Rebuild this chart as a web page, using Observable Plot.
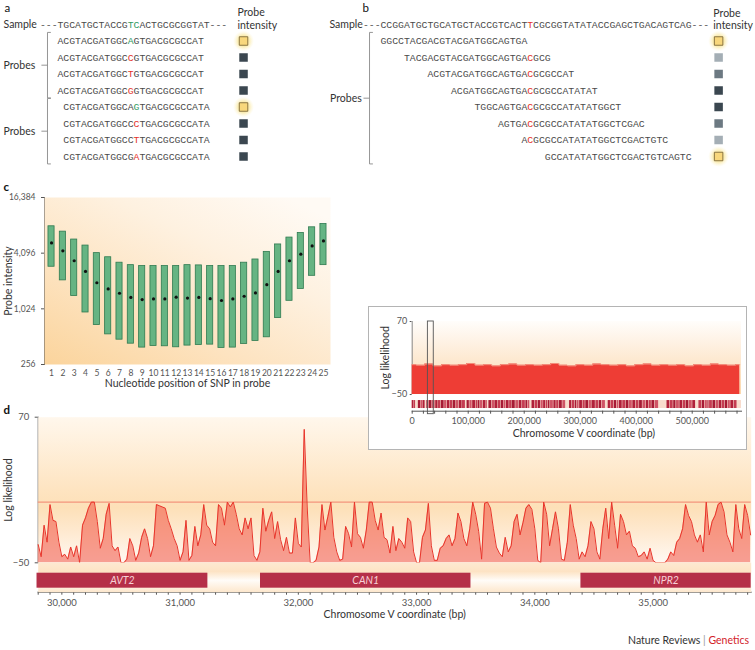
<!DOCTYPE html>
<html><head><meta charset="utf-8">
<script src="https://cdn.jsdelivr.net/npm/d3@7"></script>
<script src="https://cdn.jsdelivr.net/npm/@observablehq/plot@0.6"></script>
<style>
body{margin:0;background:#fff;}
#root{position:relative;width:755px;height:650px;overflow:hidden;font-family:Lato,"Open Sans",sans-serif;}
#inset{position:absolute;left:368px;top:306px;width:377px;height:142px;border:1px solid #b4b4b4;background:#fff;z-index:5;}
#footer{position:absolute;right:6px;top:634px;font-size:10.5px;color:#333;font-family:Lato,"Open Sans",sans-serif;}
svg.abs{position:absolute;overflow:visible;}
</style></head><body>
<svg width="0" height="0" style="position:absolute"><defs>
 <linearGradient id="gc" x1="0" y1="1" x2="0.85" y2="0">
  <stop offset="0" stop-color="#fbd49c"/><stop offset="0.35" stop-color="#fde3c0"/>
  <stop offset="0.7" stop-color="#fef1e0"/><stop offset="1" stop-color="#fffaf4"/>
 </linearGradient>
 <linearGradient id="gd" x1="0" y1="0" x2="0" y2="1">
  <stop offset="0" stop-color="#fff7ec"/><stop offset="0.5" stop-color="#fee4c1"/>
  <stop offset="0.62" stop-color="#fde0b8"/><stop offset="0.8" stop-color="#feead2"/>
  <stop offset="1" stop-color="#fff9f3"/>
 </linearGradient>
 <linearGradient id="gi" x1="0" y1="0" x2="0" y2="1">
  <stop offset="0" stop-color="#fffdfb"/><stop offset="0.55" stop-color="#fde8cf"/>
  <stop offset="1" stop-color="#fcd9ad"/>
 </linearGradient>
 <linearGradient id="gg" x1="0" y1="0" x2="0" y2="1">
  <stop offset="0" stop-color="#fde9d1"/><stop offset="0.3" stop-color="#fde3c4"/>
  <stop offset="0.6" stop-color="#fffcf8"/><stop offset="1" stop-color="#fde7cc"/>
 </linearGradient>
 <radialGradient id="glow">
  <stop offset="0" stop-color="#f7dc6e" stop-opacity="0.95"/>
  <stop offset="0.55" stop-color="#f9e697" stop-opacity="0.7"/>
  <stop offset="1" stop-color="#fdf4cc" stop-opacity="0"/>
 </radialGradient>
</defs></svg>
<div id="root">
 <div id="inset"></div>
 <div id="footer">Nature Reviews <span style="color:#999">|</span> <span style="color:#d3222a">Genetics</span></div>
</div>
<script>
// ---------------- DATA ----------------
// Panel a
const sampleA = "TGCATGCTACCGTCACTGCGCGGTAT";
const sampleAMarked = [12, 13];
const probesA = [
  "ACGTACGATGGCAGTGACGCGCCAT",
  "ACGTACGATGGCCGTGACGCGCCAT",
  "ACGTACGATGGCTGTGACGCGCCAT",
  "ACGTACGATGGCGGTGACGCGCCAT",
  "CGTACGATGGCAGTGACGCGCCATA",
  "CGTACGATGGCCCTGACGCGCCATA",
  "CGTACGATGGCCTTGACGCGCCATA",
  "CGTACGATGGCGATGACGCGCCATA"
];
const probesAOffset = [0, 0, 0, 0, 1, 1, 1, 1];
const probesAMarked = [12, 12, 12, 12, 12, 12, 12, 12];
const probesAMatch = [true, false, false, false, true, false, false, false];
const intensityA = [3, 0, 0, 0, 3, 0, 0, 0];
const groupsA = [[1, 4], [5, 8]];

// Panel b
const sampleB = "CCGGATGCTGCATGCTACCGTCACTTCGCGGTATATACCGAGCTGACAGTCAG";
const snpB = 25;
const probesB = [
  "GGCCTACGACGTACGATGGCAGTGA",
  "TACGACGTACGATGGCAGTGACGCG",
  "ACGTACGATGGCAGTGACGCGCCAT",
  "ACGATGGCAGTGACGCGCCATATAT",
  "TGGCAGTGACGCGCCATATATGGCT",
  "AGTGACGCGCCATATATGGCTCGAC",
  "ACGCGCCATATATGGCTCGACTGTC",
  "GCCATATATGGCTCGACTGTCAGTC"
];
const probesBOffset = [0, 4, 8, 12, 16, 20, 24, 28];
const intensityB = [3, 2, 1, 0, 0, 1, 2, 3];
const groupsB = [[1, 8]];

// Panel c
const positions = [1,2,3,4,5,6,7,8,9,10,11,12,13,14,15,16,17,18,19,20,21,22,23,24,25];
const cHigh = [8000,7000,5750,4950,4100,3700,3230,3040,2970,2970,2970,2970,3040,3020,2970,2970,2970,3230,3500,4230,5090,6040,6780,7800,8470];
const cMedian = [5290,4340,3390,2600,1960,1680,1510,1360,1290,1310,1310,1370,1340,1360,1320,1260,1310,1400,1520,1870,2600,3390,3990,4910,5560];
const cLow = [2920,2080,1410,935,683,542,475,430,390,406,403,393,410,416,420,387,390,427,460,504,813,1250,1680,2330,3040];
const cTicks = [256, 1024, 4096, 16384];

// Panel d (log likelihood every 25 bp from 29,800)
const traceStart = 29800, traceStep = 25;
const traceValues = [
 -35,-45,-19,-33,-2,-15,-16,-33,-45,-43,-47,-37,-45,-36,-50,-19,-13,-5,0,0,
 -16,-38,-30,-10,-1,-36,-40,-37,-50,-50,-47,-30,-36,-48,-42,-29,-22,-30,-45,-36,
 -2,-3,-4,-5,-15,-22,-30,-36,-48,-41,-15,-48,-44,-20,-36,-27,-2,-19,-22,-33,
 -36,-2,-5,-19,0,-4,0,-10,-22,-27,-13,-22,-13,-44,-48,-41,-5,-24,-15,-8,
 -30,-16,-31,-40,-29,-42,-42,-13,-34,-37,60,-4,-50,-50,-48,-37,-2,-23,-12,0,
 -29,-41,-48,-47,-20,-26,-37,0,-26,-29,-38,-23,0,0,-15,-23,-9,-29,-31,-42,
 -20,-40,-30,-33,-38,-13,-16,-41,-50,-50,-29,-23,-1,-36,-48,-48,-38,-36,-30,-27,
 -36,-30,-9,-16,-30,-36,-22,0,-10,-24,-47,-1,0,-5,-22,-37,-42,-45,-29,-41,
 -36,-16,-10,-27,-17,-5,-2,-6,-22,-48,-50,0,-10,-36,-22,-8,-22,-47,-48,-33,
 -2,-19,-30,-47,-41,-45,-36,-16,-22,-41,-47,-22,-5,-30,0,-19,-38,-10,-16,-27,
 -24,-36,-38,-45,-44,-41,-47,-38,-48,-50,-50,-50,-50,-47,-41,-44,-33,-30,-22,-2,
 -11,-16,-27,-33,-27,-41,0,-27,-16,-11,-2,0,-8,-27,-33,-41,-2,-22,-30,-2,
 -11,-27
];
const threshold = 0;
const geneNames = ["AVT2", "CAN1", "NPR2"];
const geneStart = [29790, 31680, 34390];
const geneEnd = [31235, 33460, 35830];
const dDomain = [29800, 35830];

// Inset (whole chromosome V)
const insetStep = 15000;
const insetValues = [-1,-2,0,-3,-1,-2,-1,1,-2,-1,-3,-1,0,-2,-1,-2,-1,1,-2,-3,-1,-2,0,-1,-2,-1,-3,-1,0,-2,-1,-2,-1,-3,-1,-2,0,-1,-2,-1];
const insetGenesKb = [
 [0,3],[3.5,6],[11,15],[15.6,19],[19.5,23],[26,30],[30.8,35],[35.5,41],[42,46],[46.6,51],[52,57],[57.8,62],
 [63,67],[67.7,72],[73,78],[78.8,83],[84,89],[89.6,95],[98,102],[103,107],[108,113],[114,117],[117.8,121],
 [122,126],[127,131],[131.6,134],[137,142],[143,147],[147.7,153],[154,158],[159,163],[163.8,167],
 [168,173],[174,178],[178.6,184],[185,190],[191,196],[197,202],[203,206],[206.8,210],
 [214,219],[220,224],[225,229],[230,234],[234.7,238],[239,242],[243,246],
 [247,252],[253,257],[258,262],[263,268],[269,274],[281,285],[286,290],[291,294],[295,298],
 [299,304],[305,309],[310,315],[316,320],[321,327],[328,333],[334,338],[339,345],
 [350,354],[355,360],[361,365],[366,369],[370,375],[376,381],[382,387],
 [388,393],[394,399],[400,405],[406,411],[412,417],[418,422],[423,427],[428,433],[434,440],
 [455,460],[461,466],[467,471],[472,477],[478,483],[484,488],[489,494],[495,500],[501,506],
 [512,517],[518,522],[523,527],[528,530],[531,536],[537,542],[543,547],
 [548,553],[554,558],[559,563],[564,568],[569,574],[575,580]
];
const insetDomain = [0, 588000];
const zoomWindow = [28000, 38500];

// ---------------- STYLE ----------------
const labelFont = "Lato, 'Open Sans', sans-serif";
const seqFont = "'Liberation Mono', 'DejaVu Sans Mono', monospace";
const seqColor = "#4a4a4a", red = "#e5322a", green = "#2f9a5f";
const sqFill = ["#3b4750", "#6c7982", "#a4aeb5", "#f8d77c"];
const root = document.getElementById("root");
function place(svg, left, top, parent = root) {
  svg.classList.add("abs");
  svg.style.left = left + "px"; svg.style.top = top + "px";
  parent.appendChild(svg);
}
function pushSeq(arr, str, row, offset, markIdx, markColor) {
  [...str].forEach((c, i) => arr.push({c, row, col: offset + i, fill: markIdx.includes(i) ? markColor : seqColor}));
}
function bracket(groups, xb, xEnd) {
  return groups.flatMap(([a, b], g) => [
    {g, x: xEnd, y: a - 0.52}, {g, x: xb, y: a - 0.52}, {g, x: xb, y: b + 0.45}, {g, x: xEnd, y: b + 0.45}]);
}
function seqPanel({chars, intens, groups, x0, cw, labels, sqCol, xb, xEnd, xTick}) {
  const sq = intens.map((v, k) => ({row: k + 1, v}));
  const mids = groups.map(([a, b]) => ({y: (a - 0.52 + b + 0.45) / 2}));
  return Plot.plot({
    width: 755, height: 172, margin: 0,
    style: {background: "transparent"},
    x: {type: "linear", domain: [0, 1], range: [x0, x0 + cw], axis: null},
    y: {type: "linear", domain: [0, 1], range: [24, 40.5], axis: null},
    color: {type: "identity"},
    marks: [
      Plot.line(bracket(groups, xb, xEnd), {x: "x", y: "y", z: "g", stroke: "#8a8a8a", strokeWidth: 0.9}),
      Plot.link(mids, {x1: xTick, x2: xb, y1: "y", y2: "y", stroke: "#8a8a8a", strokeWidth: 0.9}),
      Plot.text(chars, {x: d => d.col + 0.5, y: "row", text: "c", fill: "fill", fontFamily: seqFont, fontSize: 9.8}),
      Plot.dot(sq.filter(d => d.v === 3), {x: sqCol, y: "row", r: 10.5, fill: "url(#glow)"}),
      Plot.dot(sq, {x: sqCol, y: "row", symbol: "square", r: 4.8, fill: d => sqFill[d.v],
        stroke: d => d.v === 3 ? "#6e5c30" : "none", strokeWidth: 0.8}),
      Plot.text(labels, {x: "x", y: "y", text: "t", textAnchor: "start", fontFamily: labelFont,
        fontSize: d => d.size || 10.5, fontWeight: d => d.bold ? 700 : 400, fill: d => d.bold ? "#111" : "#333"})
    ]
  });
}

// ---------------- PANEL A ----------------
const charsA = [];
pushSeq(charsA, "---" + sampleA + "---", 0, -3, sampleAMarked.map(i => i + 3), green);
probesA.forEach((p, k) => pushSeq(charsA, p, k + 1, probesAOffset[k], [probesAMarked[k]], probesAMatch[k] ? green : red));
place(seqPanel({
  chars: charsA, intens: intensityA, groups: groupsA, x0: 57, cw: 5.85, sqCol: 31.8, xb: -1.71, xEnd: -1.2, xTick: -2.75,
  labels: [
    {t: "a", x: -9.06, y: -0.97, bold: true, size: 11.5},
    {t: "Sample", x: -9.23, y: 0},
    ...groupsA.map(([a, b]) => ({t: "Probes", x: -9.23, y: (a - 0.52 + b + 0.45) / 2})),
    {t: "Probe", x: 30.77, y: -0.73},
    {t: "intensity", x: 30.77, y: 0.06}
  ]
}), 0, 0);

// ---------------- PANEL B ----------------
const charsB = [];
pushSeq(charsB, "---" + sampleB + "---", 0, -3, [snpB + 3], red);
probesB.forEach((p, k) => pushSeq(charsB, p, k + 1, probesBOffset[k], [snpB - probesBOffset[k]], red));
place(seqPanel({
  chars: charsB, intens: intensityB, groups: groupsB, x0: 380, cw: 5.87, sqCol: 57.6, xb: -1.87, xEnd: -1.36, xTick: -2.9,
  labels: [
    {t: "b", x: -3.07, y: -0.97, bold: true, size: 11.5},
    {t: "Sample", x: -8.7, y: 0},
    ...groupsB.map(([a, b]) => ({t: "Probes", x: -8.6, y: (a - 0.52 + b + 0.45) / 2})),
    {t: "Probe", x: 56.7, y: -0.67},
    {t: "intensity", x: 56.7, y: 0.06}
  ]
}), 0, 0);

// ---------------- PANEL C ----------------
const cData = positions.map((p, i) => ({pos: p, high: cHigh[i], median: cMedian[i], low: cLow[i]}));
place(Plot.plot({
  width: 340, height: 220, marginLeft: 44, marginRight: 10, marginTop: 22, marginBottom: 31,
  style: {background: "transparent", fontFamily: labelFont, fontSize: "8.5px", color: "#555"},
  x: {type: "linear", domain: [0.38, 25.62], ticks: positions, tickFormat: d => String(d), tickSize: 0, tickPadding: 5, label: null},
  y: {type: "log", base: 2, domain: [256, 16384], ticks: cTicks, tickFormat: d3.format(","), tickSize: 3, line: true, label: null},
  marks: [
    Plot.frame({fill: "url(#gc)", stroke: "none"}),
    Plot.rect(cData, {x1: d => d.pos - 0.27, x2: d => d.pos + 0.27, y1: "low", y2: "high", fill: "#66b483", stroke: "#2f7a50", strokeWidth: 0.8}),
    Plot.dot(cData, {x: "pos", y: "median", r: 1.6, fill: "#111"}),
    Plot.text(["Nucleotide position of SNP in probe"], {text: d => d, frameAnchor: "bottom", textAnchor: "middle", dy: 22, fontSize: 10.5, fill: "#333"}),
    Plot.text(["Probe intensity"], {text: d => d, frameAnchor: "left", textAnchor: "middle", rotate: -90, dx: -36, fontSize: 10.5, fill: "#333"}),
    Plot.text(["c"], {text: d => d, frameAnchor: "top-left", textAnchor: "start", dx: -41, dy: -15, fontSize: 11.5, fontWeight: 700, fill: "#111"})
  ]
}), 0, 175);

// ---------------- PANEL D ----------------
const trace = traceValues.map((v, i) => ({bp: traceStart + i * traceStep, v}));
place(Plot.plot({
  width: 755, height: 170, marginLeft: 37.7, marginRight: 4.3, marginTop: 21.7, marginBottom: 2.7,
  style: {background: "transparent", fontFamily: labelFont, fontSize: "9.5px", color: "#555"},
  x: {domain: dDomain, axis: null},
  y: {domain: [-50, 70], ticks: [-50, 70], tickFormat: d => d < 0 ? "\u221250" : String(d), tickSize: 3, line: true, label: null},
  marks: [
    Plot.frame({fill: "url(#gd)", stroke: "none"}),
    Plot.ruleY([threshold], {stroke: "#f3957c", strokeWidth: 1.2}),
    Plot.areaY(trace, {x: "bp", y1: -50, y2: "v", fill: "#ef4433", fillOpacity: 0.5}),
    Plot.lineY(trace, {x: "bp", y: "v", stroke: "#e8352b", strokeWidth: 1}),
    Plot.text(["Log likelihood"], {text: d => d, frameAnchor: "left", textAnchor: "middle", rotate: -90, dx: -29.7, fontSize: 10.5, fill: "#333"}),
    Plot.text(["d"], {text: d => d, frameAnchor: "top-left", textAnchor: "start", dx: -34.7, dy: -11.7, fontSize: 11.5, fontWeight: 700, fill: "#111"})
  ]
}), 0, 395);

const genes = geneNames.map((n, i) => ({name: n, start: geneStart[i], end: geneEnd[i]}));
place(Plot.plot({
  width: 755, height: 65, marginLeft: 37.7, marginRight: 4.3, marginTop: 0, marginBottom: 35.3,
  style: {background: "transparent", fontFamily: labelFont, fontSize: "9.5px", color: "#555"},
  x: {domain: dDomain, ticks: d3.range(29800, 35900, 100), tickFormat: d => d % 1000 === 0 ? d3.format(",")(d) : "", tickSize: 3, tickPadding: 4, line: true, label: null},
  y: {domain: [0, 1], axis: null},
  marks: [
    Plot.frame({fill: "url(#gg)", stroke: "none"}),
    Plot.rect(genes, {x1: "start", x2: "end", y1: 0.135, y2: 0.64, fill: "#b52f48"}),
    Plot.text(genes, {x: d => (d.start + d.end) / 2, y: 0.39, text: "name", fill: "#f7d0d6", fontStyle: "italic", fontSize: 10.5}),
    Plot.text(["Chromosome V coordinate (bp)"], {text: d => d, frameAnchor: "bottom", textAnchor: "middle", dy: 25.5, fontSize: 10.5, fill: "#333"})
  ]
}), 0, 562);

// ---------------- INSET ----------------
const band = insetValues.map((v, i) => ({bp: i * insetStep, v}));
const insetGenes = insetGenesKb.map(([a, b], i) => ({start: a * 1000, end: b * 1000, i}));
const stripShades = ["#b0203a", "#c43c52", "#a61b35", "#cf5466"];
place(Plot.plot({
  width: 377, height: 142, marginLeft: 42.7, marginRight: 5, marginTop: 14, marginBottom: 38.3,
  style: {background: "transparent", fontFamily: labelFont, fontSize: "9px", color: "#555"},
  x: {domain: insetDomain, ticks: d3.range(0, 580001, 20000), tickFormat: d => d % 100000 === 0 ? d3.format(",")(d) : "", tickSize: 3, tickPadding: 3, line: true, label: null},
  y: {domain: [-77.4, 70], ticks: [-50, 70], tickFormat: d => d < 0 ? "\u221250" : String(d), tickSize: 2, tickPadding: 3, label: null},
  color: {type: "identity"},
  marks: [
    Plot.rect([0], {x1: insetDomain[0], x2: insetDomain[1], y1: -50, y2: 70, fill: "url(#gi)"}),
    Plot.ruleX([insetDomain[0]], {y1: -50, y2: 70, stroke: "#888"}),
    Plot.areaY(band, {x: "bp", y1: -50, y2: "v", fill: "#ee3d35", curve: "step"}),
    Plot.lineY(band, {x: "bp", y: "v", stroke: "#f4a08b", strokeWidth: 0.8, curve: "step"}),
    Plot.rect([0], {x1: insetDomain[0], x2: insetDomain[1], y1: -59.9, y2: -73, fill: "#f8dccd"}),
    Plot.rect(insetGenes, {x1: "start", x2: "end", y1: -59.9, y2: -73, fill: d => stripShades[d.i % 4]}),
    Plot.rect([0], {x1: zoomWindow[0], x2: zoomWindow[1], y1: -82.3, y2: 70, fill: "none", stroke: "#555", strokeWidth: 0.9}),
    Plot.text(["Log likelihood"], {text: d => d, frameAnchor: "left", textAnchor: "middle", rotate: -90, dx: -26.7, dy: -8.5, fontSize: 10.5, fill: "#333"}),
    Plot.text(["Chromosome V coordinate (bp)"], {text: d => d, frameAnchor: "bottom", textAnchor: "middle", dx: 7, dy: 25.3, fontSize: 10.5, fill: "#333"})
  ]
}), 0, 0, document.getElementById("inset"));
</script>
</body></html>
